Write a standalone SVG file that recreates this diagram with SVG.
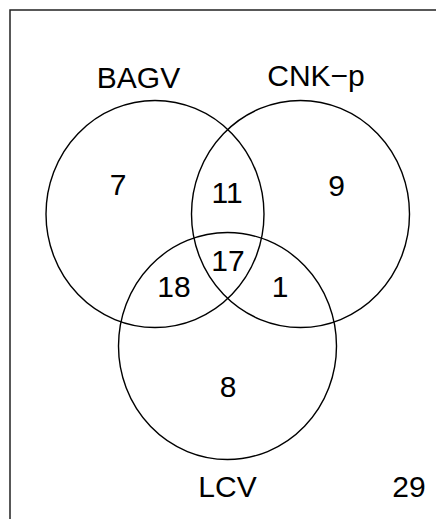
<svg xmlns="http://www.w3.org/2000/svg" width="436" height="519" viewBox="0 0 436 519">
<style>
.c{fill:none;stroke:#000;stroke-width:1.4}
.t{font-family:"Liberation Sans",Arial,sans-serif;font-size:30px;fill:#000;text-anchor:middle}
</style>
<rect x="0" y="0" width="436" height="519" fill="#fff"/>
<rect x="10" y="10" width="440" height="530" fill="none" stroke="#222" stroke-width="1.5"/>
<g id="connectors"></g>
<g id="BAGV"><ellipse class="c" cx="155" cy="214" rx="109" ry="113.5"/><text class="t" x="138.5" y="88">BAGV</text></g>
<g id="CNK-p"><ellipse class="c" cx="300.5" cy="214" rx="109" ry="113.5"/><text class="t" x="316" y="86">CNK−p</text></g>
<g id="LCV"><ellipse class="c" cx="227.5" cy="346" rx="109" ry="113.5"/><text class="t" x="227.5" y="497">LCV</text></g>
<g id="counts">
<text class="t" x="118" y="195">7</text>
<text class="t" x="227" y="203">11</text>
<text class="t" x="336.5" y="196">9</text>
<text class="t" x="228" y="271">17</text>
<text class="t" x="174" y="297">18</text>
<text class="t" x="280" y="297">1</text>
<text class="t" x="228" y="397">8</text>
<text class="t" x="409" y="497">29</text>
</g>
</svg>
